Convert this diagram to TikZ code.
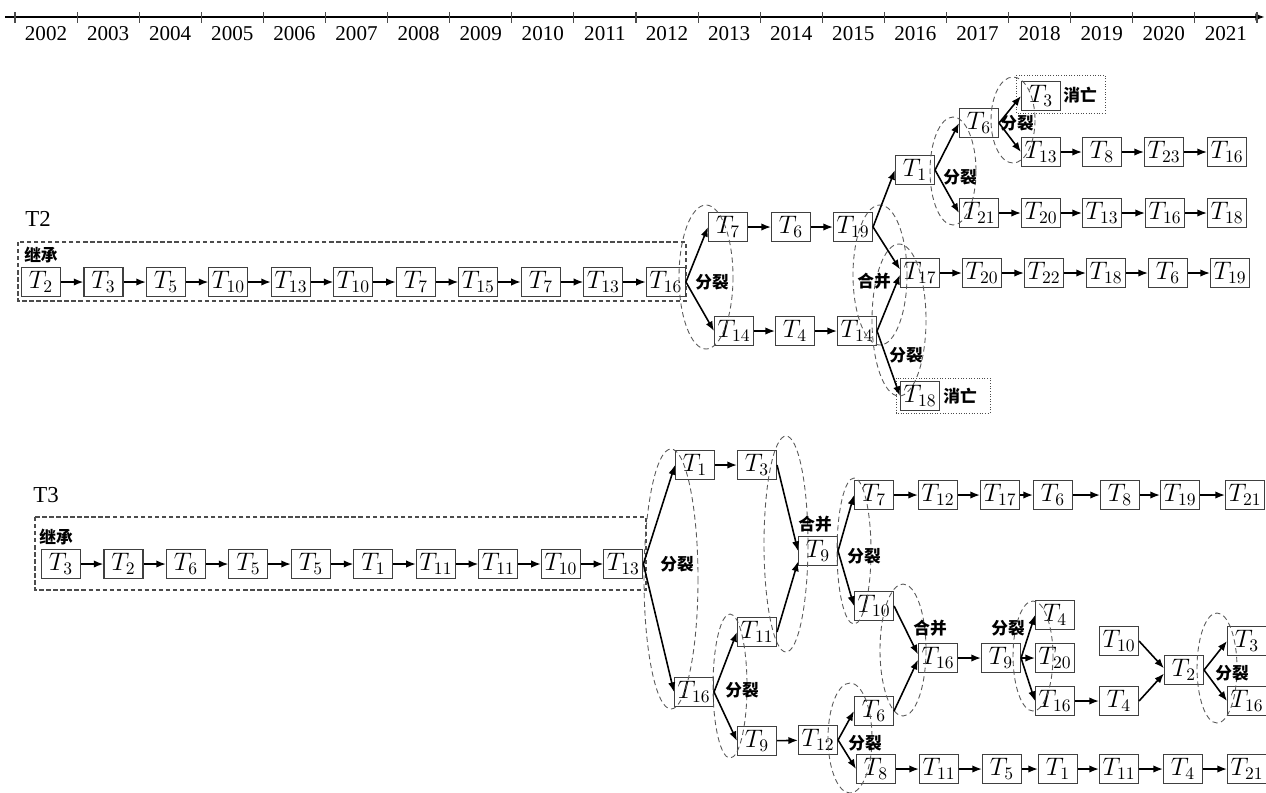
\documentclass[tikz,border=0pt]{standalone}
\usepackage{fontspec}
\setmainfont{Liberation Serif}
\newfontfamily\cjk{Noto Sans CJK SC}
\usetikzlibrary{arrows.meta}

\begin{document}
\begin{tikzpicture}[x=0.02cm,y=-0.02cm,>={Latex[length=5.5pt,width=4.2pt]},node distance=1.25cm,
                    box/.style={rectangle,draw=black!75,line width=0.6pt,minimum width=0.78cm,
                      minimum height=0.58cm,inner sep=0pt,font=\fontsize{14}{14}\selectfont},
                    tag/.style={font=\cjk\bfseries\fontsize{9.5}{9.5}\selectfont,inner sep=0pt},
                    year/.style={font=\fontsize{12}{12}\selectfont,inner sep=0pt},
                    ring/.style={draw=black!65,line width=0.5pt,dash pattern=on 3pt off 2pt},
                    frame/.style={draw=black!70,line width=0.7pt,dash pattern=on 2.5pt off 1.5pt},
                    dead/.style={draw=black!70,line width=0.5pt,densely dotted},
                    link/.style={->,line width=0.9pt}]
\useasboundingbox (0,0) rectangle (1266,792);

% time axis
\draw[->,line width=1.1pt] (5,17) -- (1265,17);
\foreach \k in {0,...,20}
  \draw[black!70,line width=0.6pt] (15+62.1*\k,12) -- (15+62.1*\k,23);
\foreach \y [count=\k from 0] in {2002,...,2021}
  \node[year] at (46+62.1*\k,34) {\y};

% ---------------- T2 ----------------
\node[year,font=\fontsize{13}{13}\selectfont] (t2) at (38,219) {T2};
\draw[frame] (18,242) rectangle (686,301);
\node[tag] (inh2) at (41,255) {继承};

\node[box] (a1) at (41,282) {$T_{2}$};
\node[box] (a2) [right of=a1] {$T_{3}$};
\node[box] (a3) [right of=a2] {$T_{5}$};
\node[box] (a4) [right of=a3] {$T_{10}$};
\node[box] (a5) [right of=a4] {$T_{13}$};
\node[box] (a6) [right of=a5] {$T_{10}$};
\node[box] (a7) [right of=a6] {$T_{7}$};
\node[box] (a8) [right of=a7] {$T_{15}$};
\node[box] (a9) [right of=a8] {$T_{7}$};
\node[box] (a10) [right of=a9] {$T_{13}$};
\node[box] (a11) [right of=a10] {$T_{16}$};

\node[box] (b1) at (728,227) {$T_{7}$};
\node[box] (b2) at (791,227) {$T_{6}$};
\node[box] (b3) at (853,227) {$T_{19}$};
\node[box] (b4) at (734,331) {$T_{14}$};
\node[box] (b5) at (795,331) {$T_{4}$};
\node[box] (b6) at (857,331) {$T_{14}$};
\node[box] (b7) at (915,170) {$T_{1}$};
\node[box] (b8) at (979,123) {$T_{6}$};
\node[box] (b9) at (1041,96) {$T_{3}$};
\node[box] (b10) at (1041,152) {$T_{13}$};
\node[box] (b11) at (1102,152) {$T_{8}$};
\node[box] (b12) at (1164,152) {$T_{23}$};
\node[box] (b13) at (1227,152) {$T_{16}$};
\node[box] (b14) at (979,213) {$T_{21}$};
\node[box] (b15) at (1041,213) {$T_{20}$};
\node[box] (b16) at (1102,213) {$T_{13}$};
\node[box] (b17) at (1165,213) {$T_{16}$};
\node[box] (b18) at (1227,213) {$T_{18}$};
\node[box] (b19) at (920,273) {$T_{17}$};
\node[box] (b20) at (982,273) {$T_{20}$};
\node[box] (b21) at (1044,273) {$T_{22}$};
\node[box] (b22) at (1106,273) {$T_{18}$};
\node[box] (b23) at (1168,273) {$T_{6}$};
\node[box] (b24) at (1230,273) {$T_{19}$};
\node[box] (b25) at (920,396) {$T_{18}$};

\draw[dead] (1016,75) rectangle (1105,113);
\draw[dead] (896,378) rectangle (990,413);
\node[tag] (die1) at (1080,95) {消亡};
\node[tag] (die2) at (960,396) {消亡};

\draw[ring] (706,277) ellipse [x radius=27,y radius=72];
\draw[ring] (880,275) ellipse [x radius=27,y radius=70];
\draw[ring] (899,320) ellipse [x radius=27,y radius=76];
\draw[ring] (953,171) ellipse [x radius=23,y radius=54];
\draw[ring] (1013,120) ellipse [x radius=22,y radius=43];

\node[tag] at (712,282) {分裂};
\node[tag] at (874,281) {合并};
\node[tag] at (906,355) {分裂};
\node[tag] at (960,177) {分裂};
\node[tag] at (1017,123) {分裂};

\path[link]
  (a1) edge (a2)
  (a2) edge (a3)
  (a3) edge (a4)
  (a4) edge (a5)
  (a5) edge (a6)
  (a6) edge (a7)
  (a7) edge (a8)
  (a8) edge (a9)
  (a9) edge (a10)
  (a10) edge (a11)
  (a11.east) edge (b1.west)
             edge (b4.west)
  (b1) edge (b2)
  (b2) edge (b3)
  (b4) edge (b5)
  (b5) edge (b6)
  (b3.east) edge (b7.west)
            edge ([yshift=2pt]b19.west)
  (b6.east) edge ([yshift=-1pt]b19.west)
            edge (b25.west)
  (b7.east) edge (b8.west)
            edge (b14.west)
  (b8.east) edge (b9.west)
            edge (b10.west)
  (b10) edge (b11)
  (b11) edge (b12)
  (b12) edge (b13)
  (b14) edge (b15)
  (b15) edge (b16)
  (b16) edge (b17)
  (b17) edge (b18)
  (b19) edge (b20)
  (b20) edge (b21)
  (b21) edge (b22)
  (b22) edge (b23)
  (b23) edge (b24);

% ---------------- T3 ----------------
\node[year,font=\fontsize{13}{13}\selectfont] (t3) at (46,495) {T3};
\draw[frame] (35,517) rectangle (646,590);
\node[tag] (inh3) at (56,537) {继承};

\node[box] (c1) at (61,564) {$T_{3}$};
\node[box] (c2) [right of=c1] {$T_{2}$};
\node[box] (c3) [right of=c2] {$T_{6}$};
\node[box] (c4) [right of=c3] {$T_{5}$};
\node[box] (c5) [right of=c4] {$T_{5}$};
\node[box] (c6) [right of=c5] {$T_{1}$};
\node[box] (c7) [right of=c6] {$T_{11}$};
\node[box] (c8) [right of=c7] {$T_{11}$};
\node[box] (c9) [right of=c8] {$T_{10}$};
\node[box] (c10) [right of=c9] {$T_{13}$};

\node[box] (d1) at (695,465) {$T_{1}$};
\node[box] (d2) at (757,465) {$T_{3}$};
\node[box] (d3) at (818,551) {$T_{9}$};
\node[box] (d4) at (694,692) {$T_{16}$};
\node[box] (d5) at (757,632) {$T_{11}$};
\node[box] (d6) at (757,741) {$T_{9}$};
\node[box] (d7) at (818,740) {$T_{12}$};

\node[box] (e1) at (874,495) {$T_{7}$};
\node[box] (e2) at (938,495) {$T_{12}$};
\node[box] (e3) at (1000,495) {$T_{17}$};
\node[box] (e4) at (1053,495) {$T_{6}$};
\node[box] (e5) at (1120,495) {$T_{8}$};
\node[box] (e6) at (1180,495) {$T_{19}$};
\node[box] (e7) at (1245,495) {$T_{21}$};

\node[box] (f1) at (874,606) {$T_{10}$};
\node[box] (f2) at (874,711) {$T_{6}$};
\node[box] (f3) at (938,658) {$T_{16}$};
\node[box] (f4) at (1001,658) {$T_{9}$};
\node[box] (f5) at (1055,615) {$T_{4}$};
\node[box] (f6) at (1055,658) {$T_{20}$};
\node[box] (f7) at (1055,701) {$T_{16}$};
\node[box] (f8) at (1119,701) {$T_{4}$};
\node[box] (f9) at (1119,641) {$T_{10}$};
\node[box] (f10) at (1184,670) {$T_{2}$};
\node[box] (f11) at (1247,641) {$T_{3}$};
\node[box] (f12) at (1247,701) {$T_{16}$};

\node[box] (g1) at (876,769) {$T_{8}$};
\node[box] (g2) at (939,769) {$T_{11}$};
\node[box] (g3) at (1002,769) {$T_{5}$};
\node[box] (g4) at (1058,769) {$T_{1}$};
\node[box] (g5) at (1119,769) {$T_{11}$};
\node[box] (g6) at (1183,769) {$T_{4}$};
\node[box] (g7) at (1247,769) {$T_{21}$};

\draw[ring] (671,579) ellipse [x radius=27,y radius=130];
\draw[ring] (786,544) ellipse [x radius=22,y radius=108];
\draw[ring] (854,551) ellipse [x radius=17,y radius=73];
\draw[ring] (730,686) ellipse [x radius=17,y radius=72];
\draw[ring] (903,650) ellipse [x radius=23,y radius=66];
\draw[ring] (850,738) ellipse [x radius=22,y radius=55];
\draw[ring] (1033,656) ellipse [x radius=20,y radius=55];
\draw[ring] (1217,668) ellipse [x radius=20,y radius=55];

\node[tag] at (677,564) {分裂};
\node[tag] at (815,524) {合并};
\node[tag] at (864,556) {分裂};
\node[tag] at (742,690) {分裂};
\node[tag] at (930,628) {合并};
\node[tag] at (1008,628) {分裂};
\node[tag] at (865,743) {分裂};
\node[tag] at (1232,673) {分裂};

\path[link]
  (c1) edge (c2)
  (c2) edge (c3)
  (c3) edge (c4)
  (c4) edge (c5)
  (c5) edge (c6)
  (c6) edge (c7)
  (c7) edge (c8)
  (c8) edge (c9)
  (c9) edge (c10)
  (c10.east) edge (d1.west)
             edge (d4.west)
  (d1) edge (d2)
  (d2.east) edge (d3.west)
  (d5.east) edge ([yshift=-6pt]d3.west)
  (d4.east) edge (d5.west)
            edge (d6.west)
  (d6) edge (d7)
  (d7.east) edge (f2.west)
            edge (g1.west)
  (d3.east) edge (e1.west)
            edge (f1.west)
  (e1) edge (e2)
  (e2) edge (e3)
  (e3) edge (e4)
  (e4) edge (e5)
  (e5) edge (e6)
  (e6) edge (e7)
  (f1.east) edge ([yshift=2pt]f3.west)
  (f2.east) edge ([yshift=-1pt]f3.west)
  (f3) edge (f4)
  (f4.east) edge (f5.west)
            edge (f6.west)
            edge (f7.west)
  (f7) edge (f8)
  (f9.east) edge ([yshift=1pt]f10.west)
  (f8.east) edge ([yshift=-2pt]f10.west)
  (f10.east) edge (f11.west)
             edge (f12.west)
  (g1) edge (g2)
  (g2) edge (g3)
  (g3) edge (g4)
  (g4) edge (g5)
  (g5) edge (g6)
  (g6) edge (g7);
\end{tikzpicture}
\end{document}
